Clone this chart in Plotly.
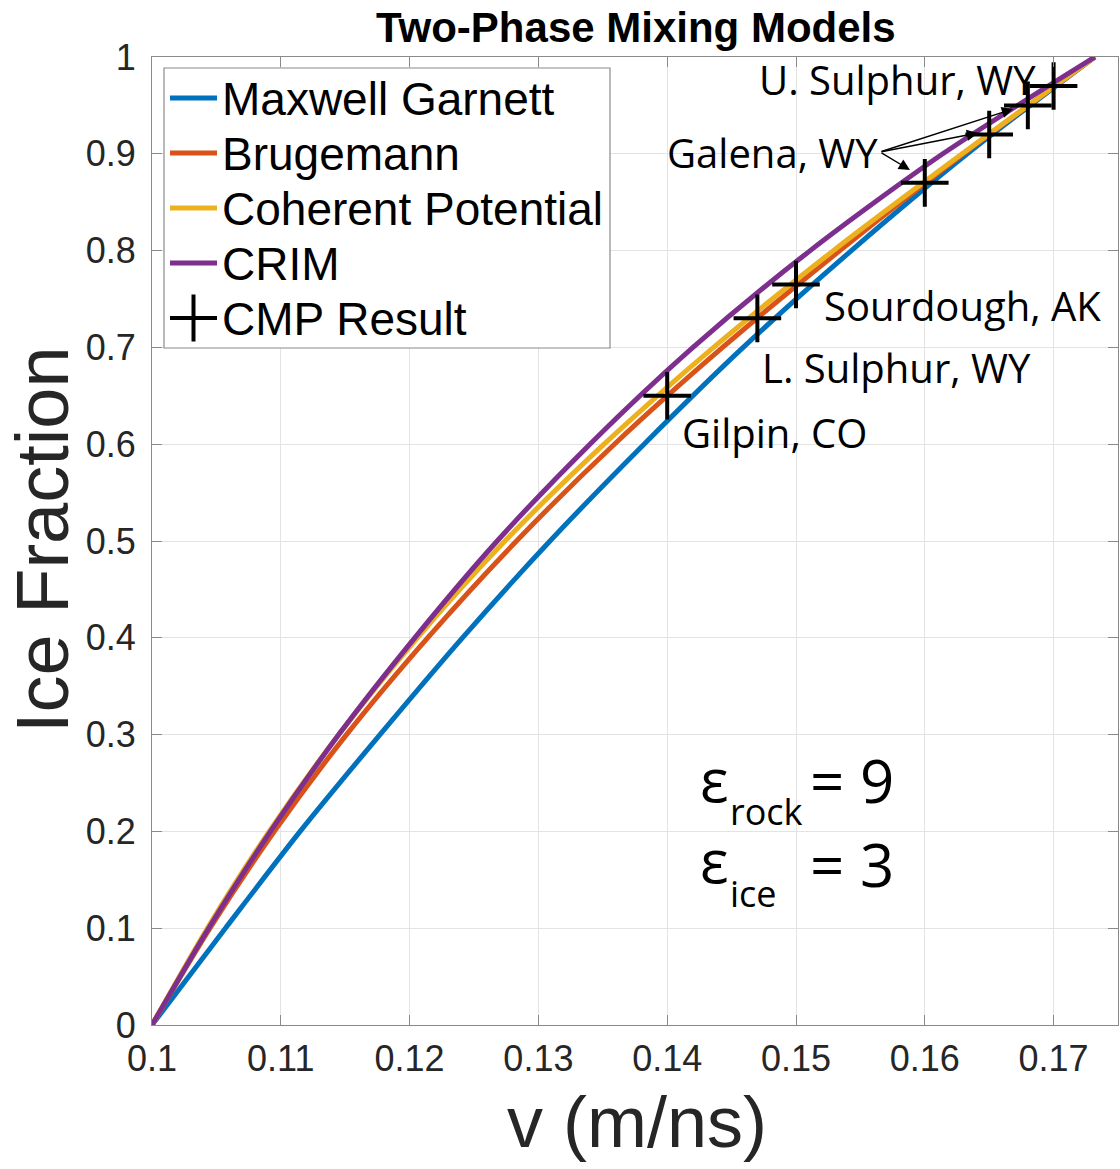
import plotly.graph_objects as go

# ---------------- data ----------------
ice_fraction = [0.0, 0.1, 0.2, 0.3, 0.4, 0.5, 0.6, 0.7, 0.8, 0.9, 1.0]
v_maxwell_garnett = [0.1000, 0.1057, 0.1115, 0.1177, 0.1241, 0.1309, 0.1382, 0.1459, 0.1543, 0.1633, 0.1732]
v_brugemann = [0.1000, 0.1045, 0.1095, 0.1151, 0.1214, 0.1283, 0.1359, 0.1443, 0.1534, 0.1630, 0.1732]
v_coherent = [0.1000, 0.1043, 0.1091, 0.1145, 0.1206, 0.1274, 0.1351, 0.1436, 0.1529, 0.1629, 0.1732]
v_crim = [0.1000, 0.1044, 0.1092, 0.1145, 0.1204, 0.1268, 0.1340, 0.1420, 0.1511, 0.1614, 0.1732]

cmp_v = [0.140, 0.147, 0.150, 0.160, 0.165, 0.168, 0.170]
cmp_ice = [0.65, 0.73, 0.765, 0.87, 0.92, 0.95, 0.97]

series_names = ["Maxwell Garnett", "Brugemann", "Coherent Potential", "CRIM", "CMP Result"]
site_labels = ["Gilpin, CO", "L. Sulphur, WY", "Sourdough, AK", "Galena, WY", "U. Sulphur, WY"]

x_ticks = [0.10, 0.11, 0.12, 0.13, 0.14, 0.15, 0.16, 0.17]
x_tick_labels = ["0.1", "0.11", "0.12", "0.13", "0.14", "0.15", "0.16", "0.17"]
y_ticks = [0.0, 0.1, 0.2, 0.3, 0.4, 0.5, 0.6, 0.7, 0.8, 0.9, 1.0]
y_tick_labels = ["0", "0.1", "0.2", "0.3", "0.4", "0.5", "0.6", "0.7", "0.8", "0.9", "1"]

# ---------------- layout / style ----------------
W, H = 1120, 1169
L, R, T, B = 152, 1118, 57, 1025
X0, X1 = 0.1, 0.175
Y0, Y1 = 0.0, 1.0

COLORS = ["#0072BD", "#D95319", "#EDB120", "#7E2F8E"]
AXIS_COLOR = "#8a8a8a"
GRID_COLOR = "#e3e3e3"
TEXT_COLOR = "#262626"
HELV = "Liberation Sans, Arial, Helvetica, sans-serif"
ANN_FONT = "Open Sans, sans-serif"


def dx(px):
    return X0 + (px - L) / (R - L) * (X1 - X0)


def dy(py):
    return Y0 + (B - py) / (B - T) * (Y1 - Y0)


def pxp(px):
    return (px - L) / (R - L)


def pyp(py):
    return (B - py) / (B - T)


fig = go.Figure()

for name, vals, col in zip(series_names[:4],
                           [v_maxwell_garnett, v_brugemann, v_coherent, v_crim],
                           COLORS):
    fig.add_trace(go.Scatter(
        x=vals, y=ice_fraction, mode="lines", name=name,
        line=dict(color=col, width=5, shape="spline", smoothing=0.8),
        showlegend=False,
    ))

fig.add_trace(go.Scatter(
    x=cmp_v, y=cmp_ice, mode="markers", name=series_names[4],
    marker=dict(symbol="cross-thin", size=34, color="black",
                line=dict(color="black", width=4)),
    showlegend=False,
))

annotations = []
shapes = []

# title
annotations.append(dict(
    text="<b>Two-Phase Mixing Models</b>", xref="paper", yref="paper",
    x=pxp(636), y=pyp(27), xanchor="center", yanchor="middle",
    showarrow=False, font=dict(family=HELV, size=42, color="black")))

# axis titles
annotations.append(dict(
    text="v (m/ns)", xref="paper", yref="paper",
    x=pxp(637), y=pyp(1122), xanchor="center", yanchor="middle",
    showarrow=False, font=dict(family=HELV, size=72, color=TEXT_COLOR)))
annotations.append(dict(
    text="Ice Fraction", xref="paper", yref="paper", textangle=-90,
    x=pxp(42), y=pyp(540), xanchor="center", yanchor="middle",
    showarrow=False, font=dict(family=HELV, size=74, color=TEXT_COLOR)))

# site labels
site_pos = [(680, 432), (760, 367), (822, 305), (665, 152), (757, 79)]
for txt, (px, py) in zip(site_labels, site_pos):
    annotations.append(dict(
        text=txt, x=dx(px), y=dy(py), xref="x", yref="y",
        xanchor="left", yanchor="middle", showarrow=False,
        font=dict(family=ANN_FONT, size=40, color="black")))

# Galena arrows
tail = (880, 152)
tips = [(910, 170), (978, 133), (1013, 109)]
for (tx, ty) in tips:
    annotations.append(dict(
        text="", x=dx(tx), y=dy(ty), xref="x", yref="y",
        ax=dx(tail[0]), ay=dy(tail[1]), axref="x", ayref="y",
        showarrow=True, arrowhead=2, arrowsize=1.6, arrowwidth=1.4,
        arrowcolor="black", standoff=0, startstandoff=0))

# permittivity text
eps_items = [
    ("ε", 698, 779, 60), ("rock", 728, 811, 36), ("= 9", 808, 780, 60),
    ("ε", 698, 860, 60), ("ice", 728, 893, 36), ("= 3", 808, 864, 60),
]
for txt, px, py, fs in eps_items:
    annotations.append(dict(
        text=txt, x=dx(px), y=dy(py), xref="x", yref="y",
        xanchor="left", yanchor="middle", showarrow=False,
        font=dict(family=ANN_FONT, size=fs, color="black")))

# custom legend
lg_x0, lg_y0, lg_x1, lg_y1 = 164, 68, 610, 348
shapes.append(dict(type="rect", xref="paper", yref="paper",
                   x0=pxp(lg_x0), x1=pxp(lg_x1), y0=pyp(lg_y1), y1=pyp(lg_y0),
                   line=dict(color=AXIS_COLOR, width=1.2), fillcolor="white",
                   layer="above"))
row_y = [98, 153, 208, 263, 318]
for i, (name, ry) in enumerate(zip(series_names, row_y)):
    if i < 4:
        shapes.append(dict(type="line", xref="paper", yref="paper",
                           x0=pxp(170), x1=pxp(217), y0=pyp(ry), y1=pyp(ry),
                           line=dict(color=COLORS[i], width=5), layer="above"))
    else:
        shapes.append(dict(type="line", xref="paper", yref="paper",
                           x0=pxp(170), x1=pxp(217), y0=pyp(ry), y1=pyp(ry),
                           line=dict(color="black", width=4), layer="above"))
        shapes.append(dict(type="line", xref="paper", yref="paper",
                           x0=pxp(193.5), x1=pxp(193.5), y0=pyp(ry - 23.5), y1=pyp(ry + 23.5),
                           line=dict(color="black", width=4), layer="above"))
    annotations.append(dict(
        text=name, xref="paper", yref="paper", x=pxp(220), y=pyp(ry + 1),
        xanchor="left", yanchor="middle", showarrow=False,
        font=dict(family=HELV, size=46, color="black")))

axis_common = dict(
    showline=True, linecolor=AXIS_COLOR, linewidth=1.2, mirror="ticks",
    ticks="inside", ticklen=10, tickwidth=1.2, tickcolor=AXIS_COLOR,
    showgrid=True, gridcolor=GRID_COLOR, gridwidth=1, zeroline=False,
    tickfont=dict(family=HELV, size=36, color=TEXT_COLOR),
)

fig.update_layout(
    width=W, height=H,
    margin=dict(l=L, r=W - R, t=T, b=H - B, pad=0),
    paper_bgcolor="white", plot_bgcolor="white",
    showlegend=False,
    xaxis=dict(range=[X0, X1], tickmode="array", tickvals=x_ticks,
               ticktext=x_tick_labels, ticklabelstandoff=2, **axis_common),
    yaxis=dict(range=[Y0, Y1], tickmode="array", tickvals=y_ticks,
               ticktext=y_tick_labels, ticklabelstandoff=8, **axis_common),
    annotations=annotations,
    shapes=shapes,
)

fig.write_html("out.html")
